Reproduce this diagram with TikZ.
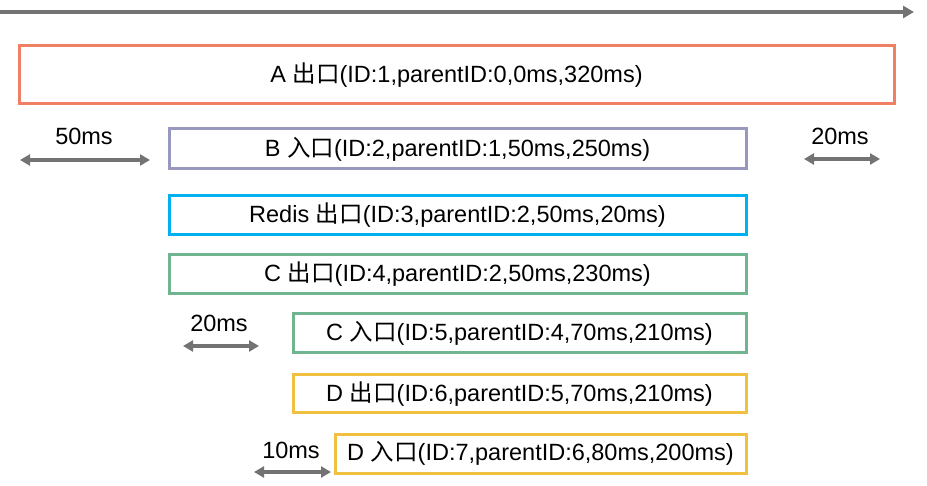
\documentclass[tikz,border=0pt]{standalone}
\usepackage{fontspec}
\setmainfont{Liberation Sans}
\newfontfamily\cjk{Noto Sans CJK SC}
\usetikzlibrary{arrows.meta}
\definecolor{cA}{RGB}{240,128,100}
\definecolor{cB}{RGB}{152,152,190}
\definecolor{cR}{RGB}{0,176,240}
\definecolor{cG}{RGB}{112,180,144}
\definecolor{cY}{RGB}{240,192,64}
\definecolor{arr}{RGB}{115,115,115}
\newcommand{\CJ}[1]{{\cjk #1}}
\tikzset{
  span/.style={draw=#1, line width=3pt, inner sep=0pt, font=\fontsize{23.5}{26}\selectfont},
  dur/.style={draw=arr, line width=3.5pt, {Triangle[length=10pt,width=11pt]}-{Triangle[length=10pt,width=11pt]}},
  lbl/.style={font=\fontsize{23.5}{26}\selectfont, inner sep=0pt}
}
\begin{document}
\begin{tikzpicture}[x=1pt,y=-1pt]
\useasboundingbox (0,0) rectangle (927,486);
\coordinate (t0) at (0,12);
\coordinate (t1) at (914,12);
\draw[draw=arr, line width=3.5pt, -{Triangle[length=11pt,width=12pt]}] (t0) -- (t1);
\node[span=cA, minimum width=875pt, minimum height=58pt] (A) at (456.5,75) {A \CJ{出口}(ID:1,parentID:0,0ms,320ms)};
\node[span=cB, minimum width=577pt, minimum height=40pt] (B) at (457.5,149) {B \CJ{入口}(ID:2,parentID:1,50ms,250ms)};
\node[span=cR, minimum width=577pt, minimum height=39pt] (R) at (457.5,215.5) {Redis \CJ{出口}(ID:3,parentID:2,50ms,20ms)};
\node[span=cG, minimum width=577pt, minimum height=39pt] (C1) at (457.5,274.5) {C \CJ{出口}(ID:4,parentID:2,50ms,230ms)};
\node[span=cG, minimum width=453pt, minimum height=39pt] (C2) at (519.5,333.5) {C \CJ{入口}(ID:5,parentID:4,70ms,210ms)};
\node[span=cY, minimum width=453pt, minimum height=38pt] (D1) at (519.5,394) {D \CJ{出口}(ID:6,parentID:5,70ms,210ms)};
\node[span=cY, minimum width=411pt, minimum height=39pt] (D2) at (540.5,453.5) {D \CJ{入口}(ID:7,parentID:6,80ms,200ms)};
\coordinate (a1) at (20,160); \coordinate (a2) at (150,160);
\coordinate (b1) at (804,159); \coordinate (b2) at (880,159);
\coordinate (c1) at (183,346); \coordinate (c2) at (259,346);
\coordinate (d1) at (254,472); \coordinate (d2) at (331,472);
\draw[dur] (a1) -- (a2);
\draw[dur] (b1) -- (b2);
\draw[dur] (c1) -- (c2);
\draw[dur] (d1) -- (d2);
\node[lbl] (la) at (84,136) {50ms};
\node[lbl] (lb) at (840,136) {20ms};
\node[lbl] (lc) at (219,323) {20ms};
\node[lbl] (ld) at (291,450) {10ms};
\end{tikzpicture}
\end{document}
